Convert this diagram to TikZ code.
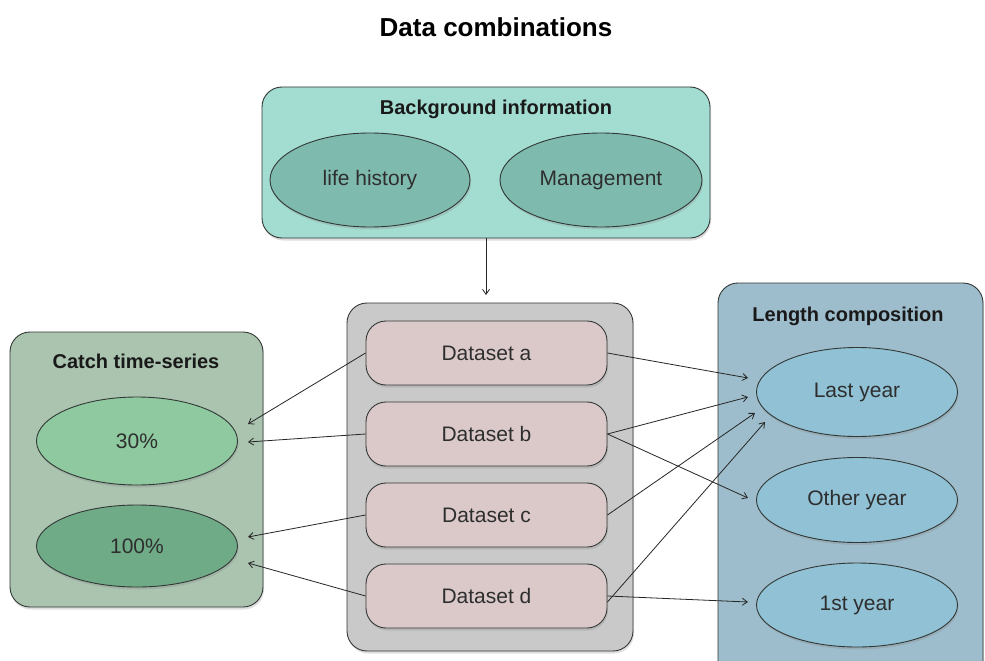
\documentclass[tikz,border=0pt]{standalone}
\usepackage{fontspec}
\setmainfont{Liberation Sans}
\usetikzlibrary{arrows.meta,shapes.geometric,shadows}

\definecolor{bgbox}{RGB}{163,220,209}
\definecolor{bgell}{RGB}{127,186,174}
\definecolor{catchbox}{RGB}{170,196,176}
\definecolor{catchA}{RGB}{142,201,160}
\definecolor{catchB}{RGB}{112,171,136}
\definecolor{midbox}{RGB}{201,201,201}
\definecolor{dsbox}{RGB}{219,201,202}
\definecolor{lenbox}{RGB}{158,189,204}
\definecolor{lenell}{RGB}{144,193,212}
\definecolor{edge}{RGB}{50,56,54}

\tikzset{
  softshadow/.style={drop shadow={opacity=0.25,shadow xshift=1pt,shadow yshift=-2.5pt}},
  groupbox/.style={draw=edge,line width=0.9pt,rounded corners=20pt,softshadow},
  grouptitle/.style={font=\bfseries\fontsize{20}{24}\selectfont,text=black!90},
  oval/.style={ellipse,draw=edge,line width=0.9pt,minimum width=#1,
    font=\fontsize{21}{25}\selectfont,text=black!82,softshadow},
  dsnode/.style={rectangle,rounded corners=20pt,draw=edge,line width=0.9pt,fill=dsbox,
    minimum width=241pt,minimum height=64pt,font=\fontsize{21}{25}\selectfont,text=black!82,softshadow},
  link/.style={draw=black!85,line width=0.8pt,-{Straight Barb[length=5pt,width=7pt]}}
}

\begin{document}
\begin{tikzpicture}[x=1pt,y=-1pt]
\useasboundingbox (0,0) rectangle (985,661);
\clip (0,0) rectangle (985,661);
\fill[white] (0,0) rectangle (985,661);

% title
\node[font=\bfseries\fontsize{26}{30}\selectfont] (title) at (496,27) {Data combinations};

% background information group
\node[groupbox,fill=bgbox,minimum width=448pt,minimum height=151pt] (bgbox) at (486,162.5) {};
\node[grouptitle] (bgtitle) at (496,109) {Background information};
\node[oval=200pt,minimum height=94pt,fill=bgell] (life) at (370,180) {life history};
\node[oval=202pt,minimum height=94pt,fill=bgell] (mgmt) at (601,180) {Management};

% catch time-series group
\node[groupbox,fill=catchbox,minimum width=253pt,minimum height=275pt] (catchbox) at (136.5,469.5) {};
\node[grouptitle] (catchtitle) at (136,361) {Catch time-series};
\node[oval=201pt,minimum height=88pt,fill=catchA] (c30) at (137,441) {30\%};
\node[oval=201pt,minimum height=82pt,fill=catchB] (c100) at (137,546) {100\%};

% datasets group
\node[groupbox,fill=midbox,minimum width=286pt,minimum height=348pt] (midbox) at (490,477) {};
\node[dsnode] (da) at (486.5,353) {Dataset a};
\node[dsnode] (db) at (486.5,434) {Dataset b};
\node[dsnode] (dc) at (486.5,515) {Dataset c};
\node[dsnode] (dd) at (486.5,596) {Dataset d};

% length composition group
\node[groupbox,fill=lenbox,minimum width=265pt,minimum height=400pt] (lenbox) at (850.5,483) {};
\node[grouptitle] (lentitle) at (848,316) {Length composition};
\node[oval=201pt,minimum height=89pt,fill=lenell] (last) at (857,392) {Last year};
\node[oval=201pt,minimum height=85pt,fill=lenell] (other) at (857,500) {Other year};
\node[oval=201pt,minimum height=84pt,fill=lenell] (first) at (857,605) {1st year};

% connector anchors just outside the ellipses
\coordinate (bgdrop) at (486,238);
\coordinate (midtop) at (486,295);
\coordinate (c30a) at (248,424);
\coordinate (c30b) at (248,442);
\coordinate (c100a) at (248,537);
\coordinate (c100b) at (248,563);
\coordinate (lastA) at (748,378);
\coordinate (lastB) at (748,397);
\coordinate (lastC) at (755,413);
\coordinate (lastD) at (765,422);
\coordinate (otherA) at (748,498);
\coordinate (firstA) at (748,602);

\draw[link] (bgdrop) -- (midtop);

\draw[link] (da.west) -- (c30a);
\draw[link] (db.west) -- (c30b);
\draw[link] (dc.west) -- (c100a);
\draw[link] (dd.west) -- (c100b);

\draw[link] (da.east) -- (lastA);
\draw[link] (db.east) -- (lastB);
\draw[link] (db.east) -- (otherA);
\draw[link] (dc.east) -- (lastC);
\draw[link] ([yshift=-6pt]dd.east) -- (lastD);
\draw[link] (dd.east) -- (firstA);
\end{tikzpicture}
\end{document}
